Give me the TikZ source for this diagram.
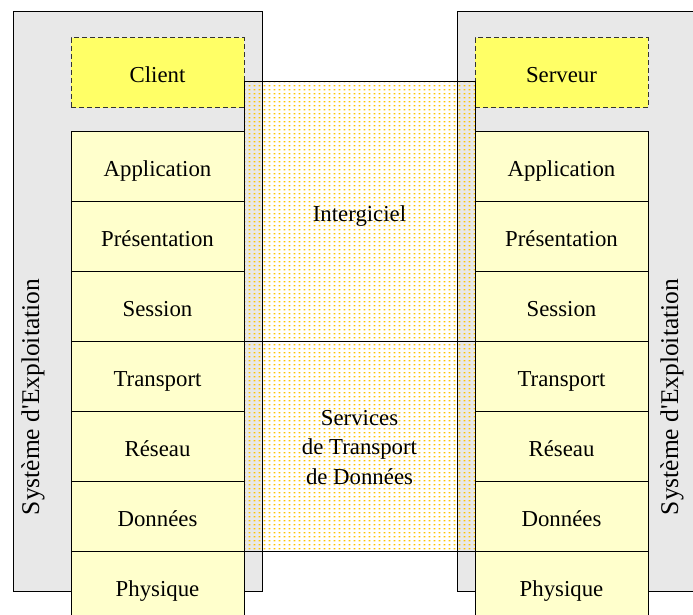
\documentclass[tikz,border=0pt]{standalone}
\usepackage{fontspec}
\setmainfont{Liberation Serif}
\newfontfamily\timesfont{Liberation Serif}
\usetikzlibrary{patterns.meta}
\definecolor{osgray}{HTML}{E8E8E8}
\definecolor{roleyel}{HTML}{FFFF66}
\definecolor{layeryel}{HTML}{FFFFCC}
\definecolor{dotgold}{HTML}{FFC400}
\definecolor{dashgray}{HTML}{333333}
\tikzdeclarepattern{
  name=ydots,
  type=uncolored,
  bounding box={(0pt,0pt) and (4.6pt,4.4pt)},
  tile size={(4.6pt,4.4pt)},
  code={\fill (0.6pt,0.6pt) rectangle (2.6pt,2.0pt);}
}
\tikzset{
  txt/.style={font=\timesfont\fontsize{22.8}{29.5}\selectfont, text height=20pt, text depth=0pt},
  osbox/.style={draw=black, fill=osgray, line width=0.9pt, inner sep=0pt},
  rolebox/.style={txt, draw=dashgray, line width=1pt, dash pattern=on 5pt off 3pt,
    fill=roleyel, minimum width=173pt, minimum height=70pt, inner sep=0pt},
  layerbox/.style={txt, draw=black, line width=0.9pt, fill=layeryel,
    minimum width=173pt, minimum height=70pt, inner sep=0pt},
  midbox/.style={txt, draw=black, line width=0.9pt, pattern={ydots}, pattern color=dotgold,
    minimum width=231pt, inner sep=0pt, align=center},
  ostext/.style={rotate=90, font=\timesfont\fontsize{25.5}{30}\selectfont},
}
\begin{document}
\begin{tikzpicture}[x=1pt,y=-1pt]
\useasboundingbox (0,0) rectangle (693,615);
\clip (0,0) rectangle (693,615);
% operating system frames
\node[osbox, minimum width=249pt, minimum height=580pt] (osL) at (137.5,301) {};
\node[osbox, minimum width=249pt, minimum height=580pt] (osR) at (581.5,301) {};
\node[ostext] (osLt) at (33,397) {Système d\textquotesingle Exploitation};
\node[ostext] (osRt) at (672,397) {Système d\textquotesingle Exploitation};
% client / server
\node[rolebox] (client) at (157.5,73) {Client};
\node[rolebox] (server) at (561.5,73) {Serveur};
% layer stacks
\foreach \nm/\lab [count=\i from 0] in {A/Application,P/Présentation,S/Session,T/Transport,R/Réseau,D/Données,H/Physique}{
  \node[layerbox] (l\nm) at (157.5,166+70*\i) {\lab};
  \node[layerbox] (r\nm) at (561.5,166+70*\i) {\lab};
}
% middleware and transport services
\node[midbox, minimum height=260pt] (mw) at (359.5,211) {Intergiciel};
\node[midbox, minimum height=210pt, text height=76pt] (ts) at (359.5,446) {Services\\de Transport\\de Données};
\end{tikzpicture}
\end{document}
